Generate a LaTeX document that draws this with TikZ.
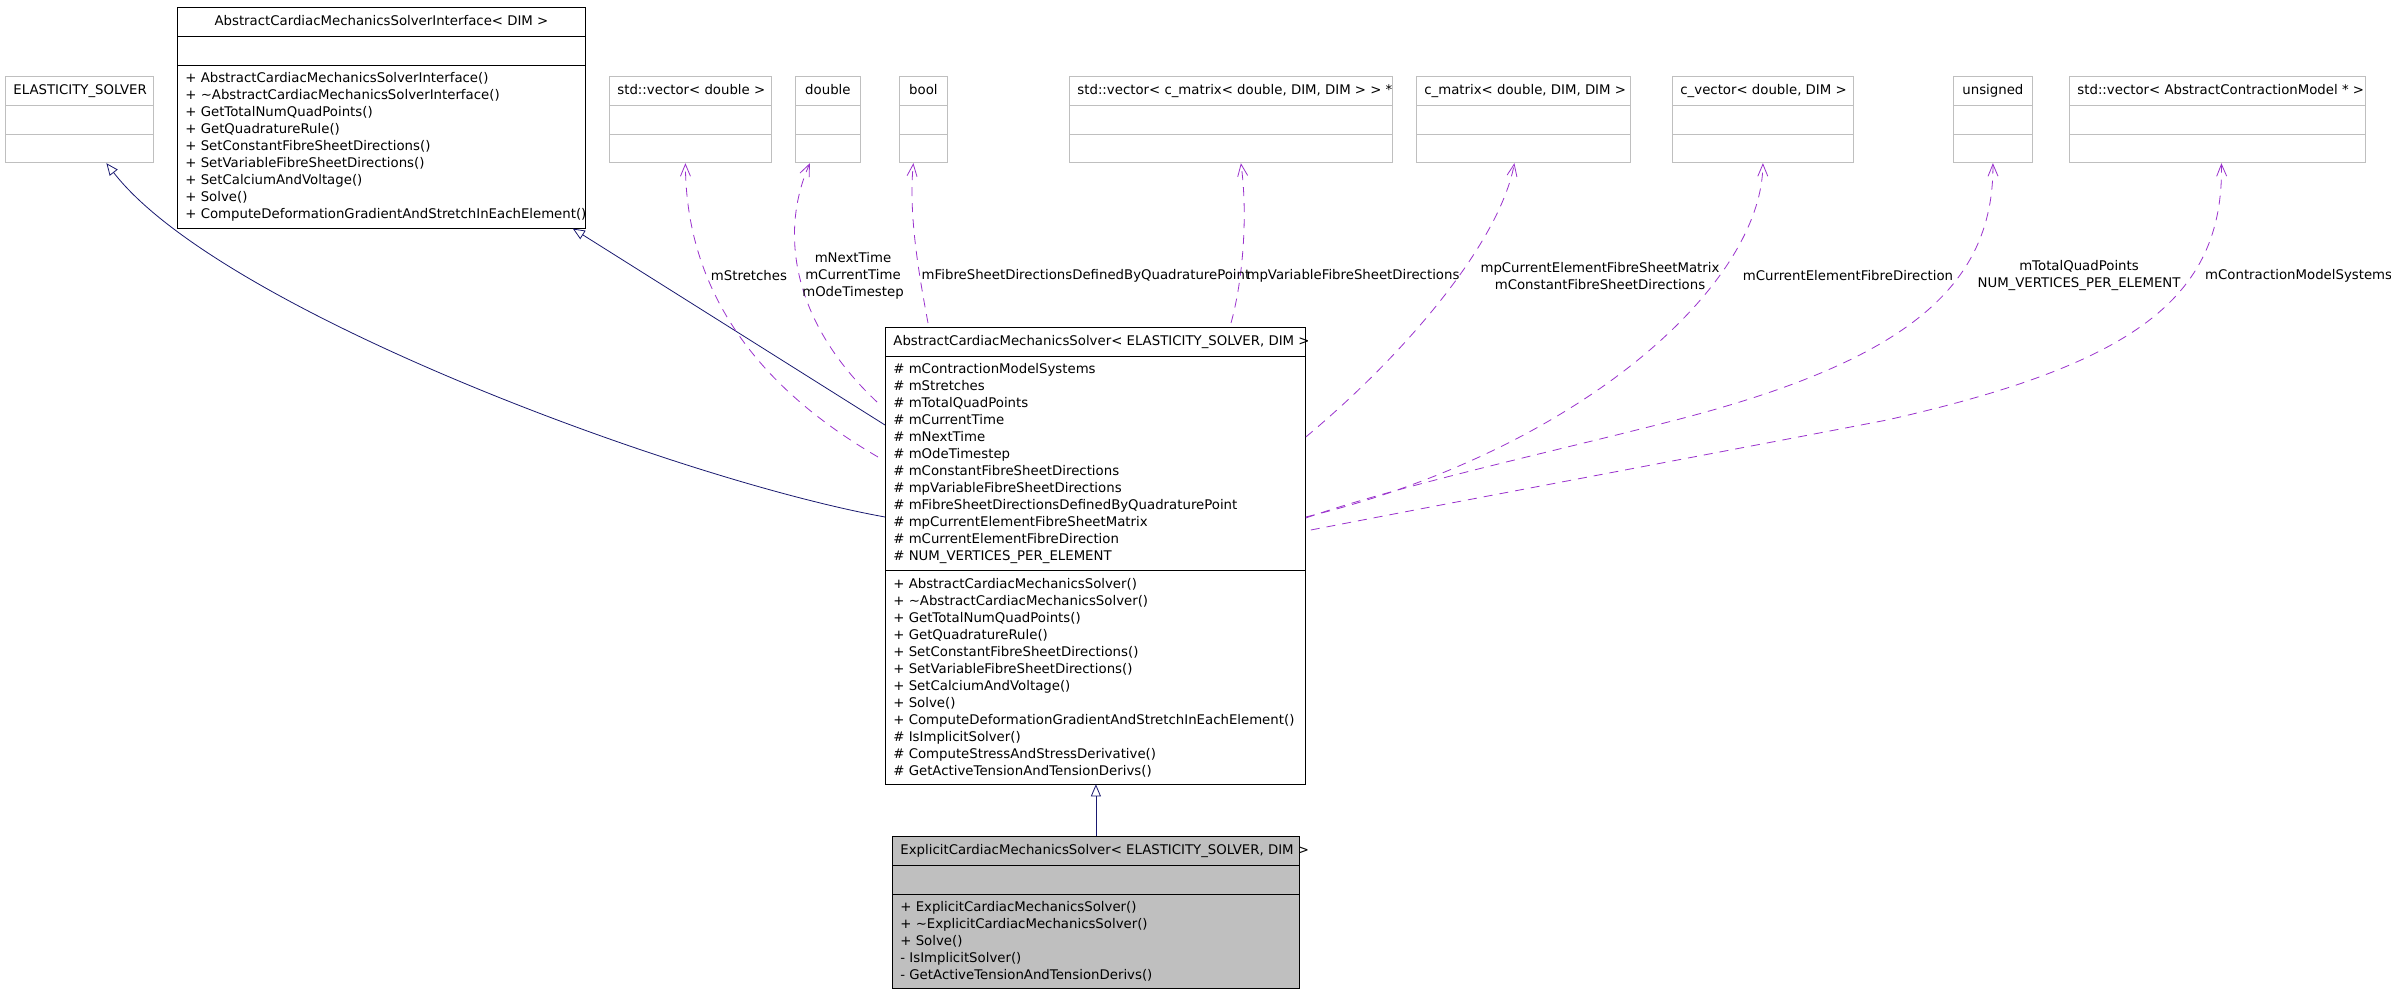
\documentclass[tikz,border=0pt]{standalone}
\usepackage{fontspec}
\setmainfont{DejaVu Sans}
\usepackage{xcolor}
\usepackage{tikz}
\usetikzlibrary{
    shapes.multipart,
    arrows.meta,
    calc
}
\definecolor{navyline}{HTML}{191970}
\definecolor{usageline}{HTML}{9A32CD}
\newcommand{\blankrow}{\rule{0pt}{14.5pt}}
\newcommand{\classhead}[2]{\hbox to #1{\hfil\rule[-4pt]{0pt}{14.5pt}#2\hss}}

\begin{document}
\begin{tikzpicture}[
            x=1pt, y=-1pt,
            font=\fontsize{13.3}{17}\selectfont,
            umlclass/.style={rectangle split, rectangle split parts=3, draw, line width=0.8pt,
                anchor=north west, align=left, rectangle split part align={center,left,left},
                inner xsep=8pt, inner ysep=6.75pt},
            extclass/.style={umlclass, draw=black!25},
            focusclass/.style={umlclass, fill=black!25},
            inherit/.style={-{Triangle[open, length=12pt, width=10pt]}, navyline, line width=0.8pt},
            usage/.style={-{Straight Barb[length=12pt, width=10pt]}, usageline, line width=0.8pt, dash pattern=on 9pt off 7pt},
            elabel/.style={align=center, inner sep=0pt}
        ]
            \fill[white] (0,0) rectangle (2391,992);
            \useasboundingbox (0,0) rectangle (2391,992);

            % ====== Base classes ======
            \node[extclass] (elastic) at (5,76)
                {\classhead{132pt}{ELASTICITY\_SOLVER}\nodepart{two}\blankrow\nodepart{three}\blankrow};
            \node[umlclass] (iface) at (177,7)
                {\classhead{392pt}{AbstractCardiacMechanicsSolverInterface< DIM >}
                 \nodepart{two}\blankrow
                 \nodepart{three}
                 + AbstractCardiacMechanicsSolverInterface()\\
                 + \textasciitilde AbstractCardiacMechanicsSolverInterface()\\
                 + GetTotalNumQuadPoints()\\
                 + GetQuadratureRule()\\
                 + SetConstantFibreSheetDirections()\\
                 + SetVariableFibreSheetDirections()\\
                 + SetCalciumAndVoltage()\\
                 + Solve()\\
                 \rlap{+ ComputeDeformationGradientAndStretchInEachElement()}};

            % ====== Member types ======
            \node[extclass] (vecdouble) at (609,76)
                {\classhead{146pt}{std::vector< double >}\nodepart{two}\blankrow\nodepart{three}\blankrow};
            \node[extclass] (dbl) at (795,76)
                {\classhead{49pt}{double}\nodepart{two}\blankrow\nodepart{three}\blankrow};
            \node[extclass] (boolcls) at (899,76)
                {\classhead{32pt}{bool}\nodepart{two}\blankrow\nodepart{three}\blankrow};
            \node[extclass] (vecmatrix) at (1069,76)
                {\classhead{307pt}{std::vector< c\_matrix< double, DIM, DIM > > *}\nodepart{two}\blankrow\nodepart{three}\blankrow};
            \node[extclass] (cmatrix) at (1416,76)
                {\classhead{198pt}{c\_matrix< double, DIM, DIM >}\nodepart{two}\blankrow\nodepart{three}\blankrow};
            \node[extclass] (cvector) at (1672,76)
                {\classhead{165pt}{c\_vector< double, DIM >}\nodepart{two}\blankrow\nodepart{three}\blankrow};
            \node[extclass] (unsgn) at (1953,76)
                {\classhead{63pt}{unsigned}\nodepart{two}\blankrow\nodepart{three}\blankrow};
            \node[extclass] (veccontract) at (2069,76)
                {\classhead{280pt}{std::vector< AbstractContractionModel * >}\nodepart{two}\blankrow\nodepart{three}\blankrow};

            % ====== Solver classes ======
            \node[umlclass] (solver) at (885,327)
                {\classhead{404pt}{AbstractCardiacMechanicsSolver< ELASTICITY\_SOLVER, DIM >}
                 \nodepart{two}
                 \# mContractionModelSystems\\
                 \# mStretches\\
                 \# mTotalQuadPoints\\
                 \# mCurrentTime\\
                 \# mNextTime\\
                 \# mOdeTimestep\\
                 \# mConstantFibreSheetDirections\\
                 \# mpVariableFibreSheetDirections\\
                 \# mFibreSheetDirectionsDefinedByQuadraturePoint\\
                 \# mpCurrentElementFibreSheetMatrix\\
                 \# mCurrentElementFibreDirection\\
                 \# NUM\_VERTICES\_PER\_ELEMENT
                 \nodepart{three}
                 + AbstractCardiacMechanicsSolver()\\
                 + \textasciitilde AbstractCardiacMechanicsSolver()\\
                 + GetTotalNumQuadPoints()\\
                 + GetQuadratureRule()\\
                 + SetConstantFibreSheetDirections()\\
                 + SetVariableFibreSheetDirections()\\
                 + SetCalciumAndVoltage()\\
                 + Solve()\\
                 + ComputeDeformationGradientAndStretchInEachElement()\\
                 \# IsImplicitSolver()\\
                 \# ComputeStressAndStressDerivative()\\
                 \# GetActiveTensionAndTensionDerivs()};
            \node[focusclass] (explicit) at (892,836)
                {\classhead{391pt}{ExplicitCardiacMechanicsSolver< ELASTICITY\_SOLVER, DIM >}
                 \nodepart{two}\blankrow
                 \nodepart{three}
                 + ExplicitCardiacMechanicsSolver()\\
                 + \textasciitilde ExplicitCardiacMechanicsSolver()\\
                 + Solve()\\
                 - IsImplicitSolver()\\
                 - GetActiveTensionAndTensionDerivs()};

            % ====== Inheritance ======
            \draw[inherit] ([yshift=-190pt]solver.north west) .. controls (680,480) and (220,310) .. ([xshift=27pt]elastic.south);
            \draw[inherit] ([yshift=-98pt]solver.north west) -- ([xshift=-13pt]iface.south east);
            \draw[inherit] (explicit.north) -- (explicit.north |- solver.south);

            % ====== Usage ======
            \draw[usage] ([xshift=-7pt,yshift=-130pt]solver.north west) .. controls (780,400) and (686,310) .. ([xshift=-5pt]vecdouble.south);
            \draw[usage] ([xshift=-8pt,yshift=-75pt]solver.north west) .. controls (790,320) and (780,230) .. ([xshift=-18pt]dbl.south);
            \draw[usage] ([xshift=43pt,yshift=4pt]solver.north west) .. controls (920,280) and (908,215) .. ([xshift=-10pt]boolcls.south);
            \draw[usage] ([xshift=346pt,yshift=4pt]solver.north west) .. controls (1243,280) and (1248,215) .. ([xshift=10pt]vecmatrix.south);
            \draw[usage] ([yshift=-110pt]solver.north east) .. controls (1410,350) and (1500,240) .. ([xshift=-9pt]cmatrix.south);
            \draw[usage] ([yshift=-190pt]solver.north east) .. controls (1580,450) and (1762,285) .. (cvector.south);
            \draw[usage] ([yshift=-191pt]solver.north east) .. controls (1400,485) and (1560,450) .. (1676,420)
                .. controls (1900,362) and (1994,290) .. (unsgn.south);
            \draw[usage] ([xshift=5pt,yshift=-203pt]solver.north east) .. controls (1502,493) and (1695,457) .. (1887,420)
                .. controls (2130,365) and (2224,300) .. ([xshift=4pt]veccontract.south);

            \node[elabel] (lstretch) at (749,276) {mStretches};
            \node[elabel] (ltimes) at (853,276) {mNextTime\\mCurrentTime\\mOdeTimestep};
            \node[elabel] (lquad) at (1086,276) {mFibreSheetDirectionsDefinedByQuadraturePoint};
            \node[elabel] (lvarfibre) at (1353,276) {mpVariableFibreSheetDirections};
            \node[elabel] (lsheet) at (1600,276) {mpCurrentElementFibreSheetMatrix\\mConstantFibreSheetDirections};
            \node[elabel] (lfibredir) at (1848,276) {mCurrentElementFibreDirection};
            \node[elabel] (lquadpts) at (2079,276) {mTotalQuadPoints\\NUM\_VERTICES\_PER\_ELEMENT};
            \node[elabel, anchor=west] (lcontract) at (2205,276) {mContractionModelSystems};
        \end{tikzpicture}
\end{document}
